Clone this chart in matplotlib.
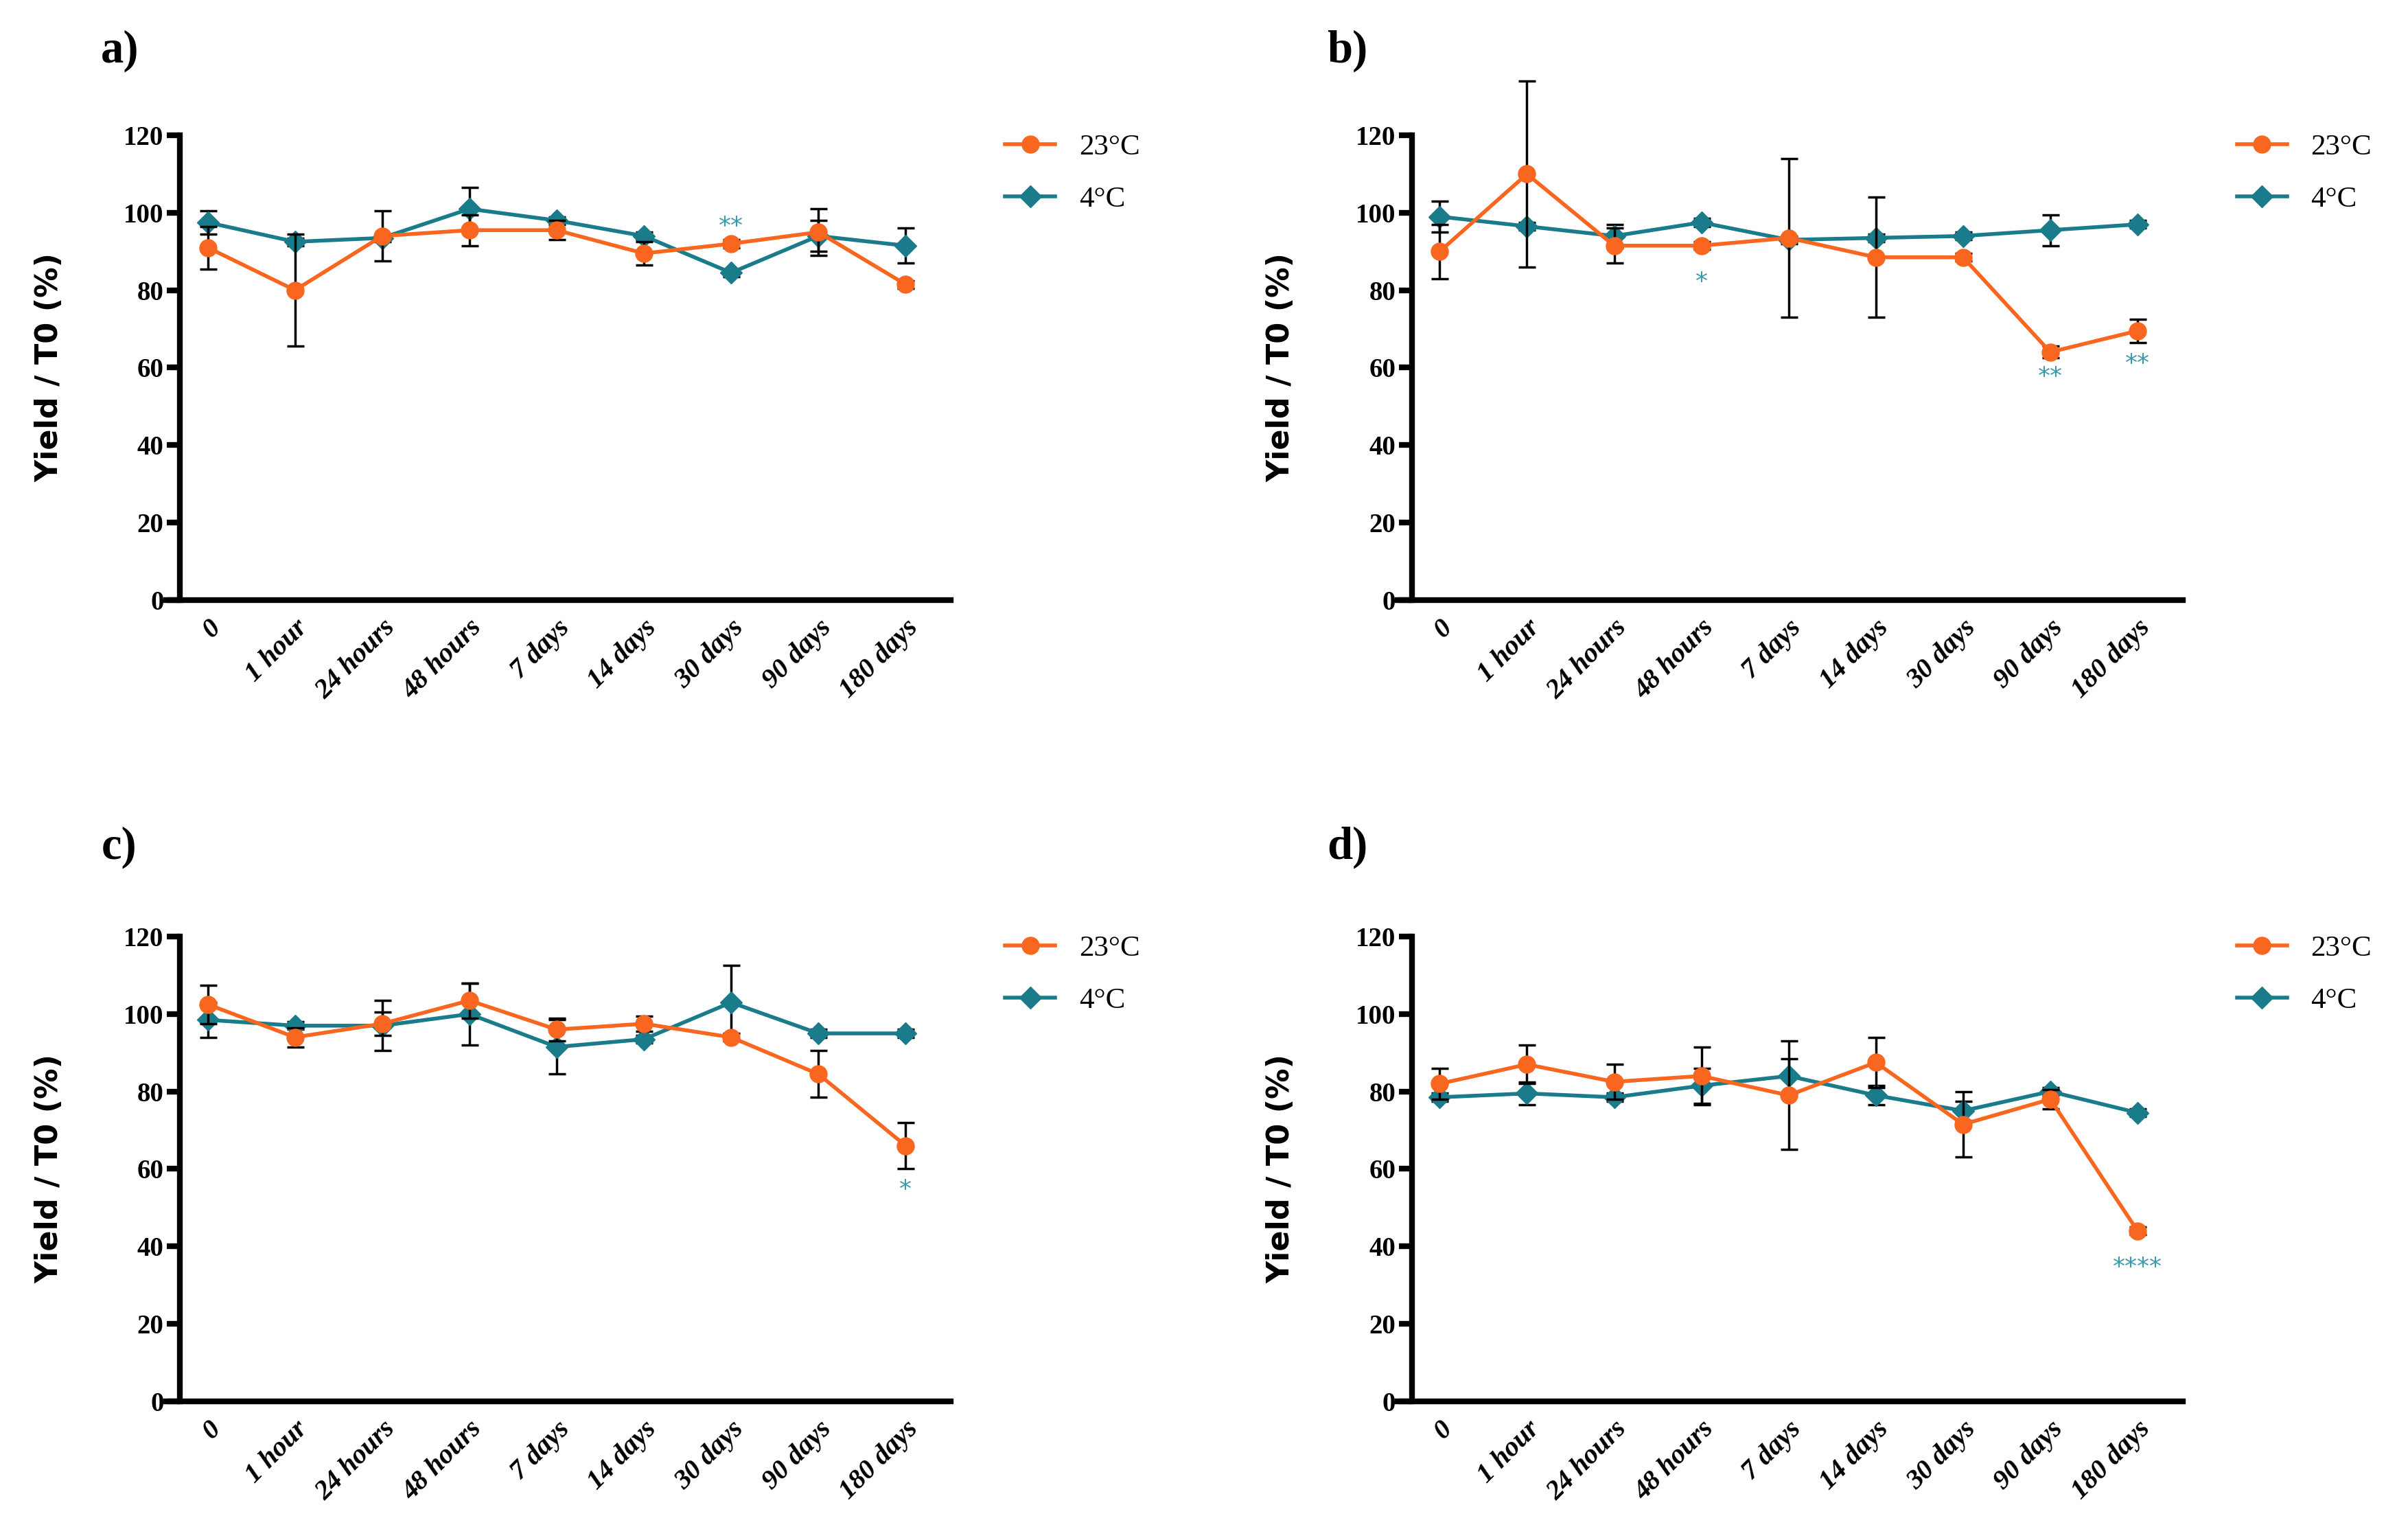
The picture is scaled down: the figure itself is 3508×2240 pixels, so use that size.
import numpy as np
import matplotlib
matplotlib.use('Agg')
import matplotlib.pyplot as plt
from matplotlib.lines import Line2D

# --- datos ---
tiempos = ['0', '1 hour', '24 hours', '48 hours', '7 days', '14 days',
           '30 days', '90 days', '180 days']
y_ticks = [0, 20, 40, 60, 80, 100, 120]

# panel a
a_23 = [91, 80, 94, 95.5, 95.5, 89.5, 92, 95, 81.5]
a_23_err = [5.5, 14.5, 6.5, 4, 2.5, 3, 1, 6, 1]
a_4 = [97.5, 92.5, 93.5, 101, 98, 94, 84.5, 94, 91.5]
a_4_err = [3, 1, 1, 5.5, 1, 1, 1, 4, 4.5]

# panel b
b_23 = [90, 110, 91.5, 91.5, 93.5, 88.5, 88.5, 64, 69.5]
b_23_err = [7, 24, 4.5, 1, 20.5, 15.5, 1, 1.5, 3]
b_4 = [99, 96.5, 94, 97.5, 93, 93.5, 94, 95.5, 97]
b_4_err = [4, 1, 3, 1, 1, 1, 1, 4, 1]

# panel c
c_23 = [102.5, 94, 97.5, 103.5, 96, 97.5, 94, 84.5, 66]
c_23_err = [5, 2.5, 3, 4.5, 3, 2, 1, 6, 6]
c_4 = [98.5, 97, 97, 100, 91.5, 93.5, 103, 95, 95]
c_4_err = [4.5, 1, 6.5, 8, 7, 1, 9.5, 1, 1]

# panel d
d_23 = [82, 87, 82.5, 84, 79, 87.5, 71.5, 78, 44]
d_23_err = [4, 5, 4.5, 7.5, 14, 6.5, 8.5, 2.5, 1]
d_4 = [78.5, 79.5, 78.5, 81.5, 84, 79, 75, 80, 74.5]
d_4_err = [1, 3, 1, 4.5, 4.5, 2.5, 2.5, 1, 1]

# asteriscos: (indice, y, texto)
a_sig = [(6, 96.5, '**')]
b_sig = [(3, 82, '*'), (7, 57.5, '**'), (8, 61, '**')]
c_sig = [(8, 54.5, '*')]
d_sig = [(8, 34.5, '****')]

naranja = '#F9661F'
verde = '#1A7B8B'

fig = plt.figure(figsize=(35.08, 22.40), dpi=100)

paneles = [
    ('a)', [0.0689, 0.610, 0.326, 0.302], a_23, a_23_err, a_4, a_4_err, a_sig, (0.042, 0.967)),
    ('b)', [0.5805, 0.610, 0.326, 0.302], b_23, b_23_err, b_4, b_4_err, b_sig, (0.551, 0.967)),
    ('c)', [0.0689, 0.089, 0.326, 0.302], c_23, c_23_err, c_4, c_4_err, c_sig, (0.042, 0.449)),
    ('d)', [0.5805, 0.089, 0.326, 0.302], d_23, d_23_err, d_4, d_4_err, d_sig, (0.551, 0.449)),
]

x = np.arange(len(tiempos))

for letra, pos, y23, e23, y4, e4, sig, lpos in paneles:
    ax = fig.add_axes(pos)
    # ejes estilo GraphPad (antes de configurar los ticks)
    for s in ['top', 'right']:
        ax.spines[s].set_visible(False)
    ax.spines['left'].set_position(('axes', 0.018))
    ax.spines['left'].set_linewidth(6)
    ax.spines['bottom'].set_linewidth(6)

    ax.errorbar(x, y4, yerr=e4, color=verde, marker='D', markersize=16,
                lw=4, ecolor='black', elinewidth=2.5, capsize=9, capthick=2.5,
                zorder=3)
    ax.errorbar(x, y23, yerr=e23, color=naranja, marker='o', markersize=18,
                lw=4, ecolor='black', elinewidth=2.5, capsize=9, capthick=2.5,
                zorder=4)
    for i, yy, txt in sig:
        ax.text(i, yy, txt, color='#3A9BAE', fontsize=26, ha='center', va='center',
                family='DejaVu Sans')

    ax.set_xlim(-0.48, 8.52)
    ax.set_ylim(0, 120)
    ax.spines['left'].set_bounds(0, 120)
    ax.set_yticks(y_ticks)
    ax.set_yticklabels([str(v) for v in y_ticks], family='Liberation Serif',
                       fontweight='bold', fontsize=28)
    ax.set_xticks(x)
    ax.set_xticklabels(tiempos, rotation=45, ha='right', rotation_mode='anchor',
                       family='Liberation Serif', fontweight='bold',
                       fontstyle='italic', fontsize=29)
    ax.tick_params(axis='x', length=0, pad=16)
    ax.tick_params(axis='y', length=14, width=6, pad=3)
    for art in ax.lines + ax.collections:
        art.set_clip_on(False)

    ax.set_ylabel('Yield / T0 (%)', fontsize=32, fontweight='bold',
                  family='DejaVu Sans')
    ax.yaxis.set_label_coords(-0.13, 0.5)

    h = [Line2D([], [], color=naranja, marker='o', markersize=18, lw=4),
         Line2D([], [], color=verde, marker='D', markersize=16, lw=4)]
    ax.legend(h, ['23°C', '4°C'], loc='upper left', bbox_to_anchor=(1.035, 1.06),
              frameon=False, handlelength=1.7, labelspacing=0.85,
              prop={'family': 'Liberation Serif', 'size': 31})

    fig.text(lpos[0], lpos[1], letra, fontsize=48, fontweight='bold',
             family='Liberation Serif', ha='left', va='center')

fig.savefig('out.png', dpi=100, facecolor='white')
